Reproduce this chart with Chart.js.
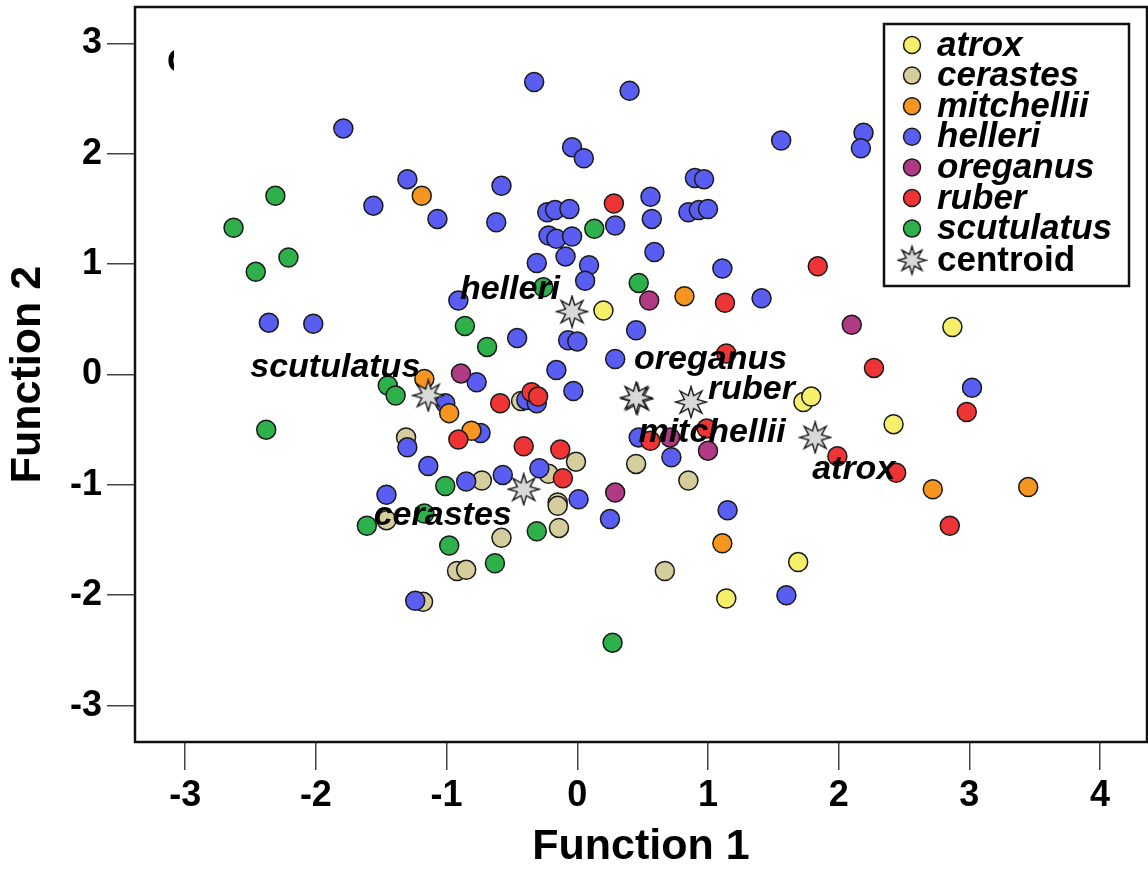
<!DOCTYPE html>
<html>
<head>
<meta charset="utf-8">
<script src="https://cdn.jsdelivr.net/npm/chart.js@4.4.1/dist/chart.umd.min.js"></script>
<style>
  html, body { margin: 0; padding: 0; background: #fff; }
</style>
</head>
<body>
<canvas id="scatter" width="1148" height="869"></canvas>
<script>
// discriminant scores, [Function 1, Function 2] per specimen
var species = ['atrox', 'cerastes', 'mitchellii', 'helleri', 'oreganus', 'ruber', 'scutulatus'];

var atrox = [[0.20,0.58],[2.87,0.43],[1.73,-0.25],[1.79,-0.20],[2.42,-0.45],[1.69,-1.70],[1.14,-2.03]];
var cerastes = [[-0.43,-0.24],[-1.31,-0.57],[-0.01,-0.79],[0.45,-0.81],[0.85,-0.96],[-0.73,-0.96],[-0.22,-0.90],
  [-0.15,-1.16],[-0.15,-1.19],[-0.14,-1.39],[-0.58,-1.48],[-0.92,-1.78],[-0.85,-1.77],[0.67,-1.78],[-1.18,-2.06],[-1.46,-1.32]];
var mitchellii = [[-1.19,1.62],[0.82,0.71],[-1.17,-0.04],[-0.98,-0.35],[-0.81,-0.51],[2.72,-1.04],[3.45,-1.02],[1.11,-1.53]];
var helleri = [[-1.79,2.23],[-1.56,1.53],[-1.30,1.77],[-1.07,1.41],[-0.58,1.71],[-0.62,1.38],[-0.33,2.65],[0.40,2.57],
  [-0.04,2.06],[0.05,1.96],[-0.23,1.47],[-0.17,1.49],[-0.06,1.50],[0.56,1.61],[0.90,1.78],[0.97,1.77],[0.85,1.47],
  [0.93,1.49],[1.00,1.50],[0.29,1.35],[0.57,1.41],[-0.22,1.26],[-0.16,1.23],[-0.04,1.25],[-0.09,1.07],[0.59,1.11],
  [-0.31,1.01],[0.09,0.99],[0.06,0.85],[1.11,0.96],[1.41,0.69],[1.56,2.12],[2.19,2.19],[2.17,2.05],[-0.91,0.67],
  [-2.36,0.47],[-2.02,0.46],[-0.46,0.33],[-0.07,0.31],[0.00,0.30],[0.45,0.40],[0.29,0.14],[-0.16,0.04],[-0.03,-0.15],
  [-0.77,-0.07],[-1.01,-0.26],[-0.39,-0.23],[-0.31,-0.26],[3.02,-0.12],[-1.30,-0.66],[-0.74,-0.53],[0.47,-0.57],
  [0.72,-0.75],[-1.14,-0.83],[-0.85,-0.97],[-0.57,-0.91],[-0.29,-0.85],[-1.46,-1.09],[0.01,-1.13],[0.25,-1.31],
  [1.15,-1.23],[-1.24,-2.05],[1.60,-2.00]];
var oreganus = [[0.55,0.67],[-0.89,0.01],[0.71,-0.57],[1.00,-0.69],[0.29,-1.07],[2.10,0.45]];
var ruber = [[0.28,1.55],[1.13,0.65],[1.84,0.98],[1.14,0.19],[2.27,0.06],[2.98,-0.34],[-0.59,-0.26],[-0.35,-0.16],
  [-0.30,-0.20],[-0.91,-0.59],[-0.41,-0.65],[-0.13,-0.68],[-0.11,-0.94],[0.56,-0.60],[0.99,-0.49],[1.99,-0.74],
  [2.44,-0.89],[2.85,-1.37]];
var scutulatus = [[-2.31,1.62],[-2.63,1.33],[-2.21,1.06],[-2.46,0.93],[0.13,1.32],[0.47,0.83],[-0.26,0.79],[-0.86,0.44],
  [-0.69,0.25],[-1.45,-0.10],[-1.39,-0.19],[-2.38,-0.50],[-1.01,-1.01],[-1.61,-1.37],[-1.17,-1.26],[-0.31,-1.42],
  [-0.98,-1.55],[-0.63,-1.71],[0.27,-2.43]];

// group centroids, same order as species
var centroidX = [1.82, -0.41, 0.46, -0.04, 0.45, 0.87, -1.14];
var centroidY = [-0.57, -1.04, -0.22, 0.57, -0.21, -0.25, -0.19];

var xTicks = [-3, -2, -1, 0, 1, 2, 3, 4];
var yTicks = [-3, -2, -1, 0, 1, 2, 3];

// styling
var colors = ['#f6ef6a', '#d5cd9b', '#f6951f', '#5a5df1', '#b03b84', '#ee3434', '#2eb04b'];
var drawOrder = [5, 7, 4, 6, 3, 1, 2];
var labelPos = {
  atrox: { dx: -3, dy: 42, align: 'left' },
  cerastes: { dx: -12, dy: 36, align: 'right' },
  mitchellii: { dx: 1, dy: 43, align: 'left' },
  helleri: { dx: -12, dy: -13, align: 'right' },
  oreganus: { dx: -2, dy: -29, align: 'left' },
  ruber: { dx: 17, dy: -3, align: 'left' },
  scutulatus: { dx: -8, dy: -18, align: 'right' }
};
var FONT = 'Liberation Sans, Arial, Helvetica, sans-serif';

function makeStar(size) {
  var c = document.createElement('canvas');
  c.width = size; c.height = size;
  var g = c.getContext('2d');
  var cx = size / 2, cy = size / 2, ro = size / 2 - 1.5, ri = ro * 0.45;
  g.beginPath();
  for (var i = 0; i < 16; i++) {
    var r = i % 2 === 0 ? ro : ri;
    var ang = -Math.PI / 2 + i * Math.PI / 8;
    var px = cx + r * Math.cos(ang), py = cy + r * Math.sin(ang);
    if (i === 0) g.moveTo(px, py); else g.lineTo(px, py);
  }
  g.closePath();
  g.fillStyle = '#d9d9d9';
  g.fill();
  g.lineWidth = 1.4;
  g.strokeStyle = '#1a1a1a';
  g.stroke();
  return c;
}
var star = makeStar(34);
var legendStar = makeStar(31);

var groups = [atrox, cerastes, mitchellii, helleri, oreganus, ruber, scutulatus];
var datasets = species.map(function(name, i) {
  return {
    label: name,
    data: groups[i].map(function(p) { return { x: p[0], y: p[1] }; }),
    backgroundColor: colors[i],
    borderColor: '#1a1a1a',
    borderWidth: 1.5,
    pointRadius: 9.5,
    order: drawOrder[i]
  };
});
datasets.push({
  label: 'centroid',
  data: centroidX.map(function(x, i) { return { x: x, y: centroidY[i] }; }),
  pointStyle: star,
  pointRadius: 17,
  order: 0
});

var extras = {
  id: 'extras',
  afterDatasetsDraw: function(chart) {
    var ctx = chart.ctx;
    var meta = chart.getDatasetMeta(datasets.length - 1);
    ctx.save();
    ctx.fillStyle = '#000';
    ctx.font = 'italic bold 34px ' + FONT;
    ctx.textBaseline = 'alphabetic';
    meta.data.forEach(function(pt, i) {
      var lp = labelPos[species[i]];
      ctx.textAlign = lp.align;
      ctx.fillText(species[i], pt.x + lp.dx, pt.y + lp.dy);
    });
    ctx.restore();
  },
  afterDraw: function(chart) {
    var ctx = chart.ctx, a = chart.chartArea;
    ctx.save();
    ctx.lineWidth = 2.5;
    ctx.strokeStyle = '#111';
    ctx.strokeRect(a.left, a.top, a.right - a.left, a.bottom - a.top);

    // clipped panel letter in the corner
    ctx.save();
    ctx.beginPath();
    ctx.rect(166, 45, 8, 36);
    ctx.clip();
    ctx.fillStyle = '#000';
    ctx.font = 'bold 34px ' + FONT;
    ctx.textAlign = 'left';
    ctx.textBaseline = 'middle';
    ctx.fillText('C', 167, 63);
    ctx.restore();

    // legend box
    var lx = 884, ly = 24, lw = 245, lh = 262;
    ctx.fillStyle = '#fff';
    ctx.fillRect(lx, ly, lw, lh);
    ctx.strokeRect(lx, ly, lw, lh);
    ctx.textAlign = 'left';
    ctx.textBaseline = 'middle';
    var y0 = 45, step = 30.6;
    species.forEach(function(name, i) {
      var y = y0 + i * step;
      ctx.beginPath();
      ctx.arc(912, y, 8.5, 0, Math.PI * 2);
      ctx.fillStyle = colors[i];
      ctx.fill();
      ctx.lineWidth = 1.5;
      ctx.strokeStyle = '#1a1a1a';
      ctx.stroke();
      ctx.fillStyle = '#000';
      ctx.font = 'italic bold 35px ' + FONT;
      ctx.fillText(name, 937, y + 1);
    });
    var yc = y0 + species.length * step + 1;
    ctx.drawImage(legendStar, 912 - legendStar.width / 2, yc - legendStar.height / 2);
    ctx.fillStyle = '#000';
    ctx.font = 'bold 35px ' + FONT;
    ctx.fillText('centroid', 937, yc + 1);
    ctx.restore();
  }
};

// tick labels must not shrink the plot box
function noPad(s) { s.paddingLeft = 0; s.paddingRight = 0; s.paddingTop = 0; s.paddingBottom = 0; }

new Chart(document.getElementById('scatter'), {
  type: 'scatter',
  data: { datasets: datasets },
  options: {
    responsive: false,
    animation: false,
    events: [],
    layout: { autoPadding: false, padding: { top: 7, right: 1, left: 0, bottom: 0 } },
    plugins: { legend: { display: false }, tooltip: { enabled: false } },
    scales: {
      x: {
        type: 'linear',
        min: -3.384,
        max: 4.359,
        afterBuildTicks: function(s) { s.ticks = xTicks.map(function(v) { return { value: v }; }); },
        afterFit: function(s) { s.height = 127; noPad(s); },
        grid: { drawOnChartArea: false, drawTicks: true, tickLength: 28, color: '#444', lineWidth: 1.5 },
        border: { display: false },
        ticks: { color: '#000', padding: 4, font: { family: FONT, size: 36, weight: 'bold' } },
        title: {
          display: true,
          text: 'Function 1',
          color: '#000',
          padding: { top: 0, bottom: 0 },
          font: { family: FONT, size: 43, weight: 'bold', lineHeight: 1.0 }
        }
      },
      y: {
        type: 'linear',
        min: -3.33,
        max: 3.33,
        afterBuildTicks: function(s) { s.ticks = yTicks.map(function(v) { return { value: v }; }); },
        afterFit: function(s) { s.width = 135; noPad(s); },
        grid: { drawOnChartArea: false, drawTicks: true, tickLength: 28, color: '#444', lineWidth: 1.5 },
        border: { display: false },
        ticks: { color: '#000', padding: 5, font: { family: FONT, size: 36, weight: 'bold' } },
        title: {
          display: true,
          text: 'Function 2',
          color: '#000',
          padding: { top: 7, bottom: 0 },
          font: { family: FONT, size: 43, weight: 'bold', lineHeight: 1.0 }
        }
      }
    }
  },
  plugins: [extras]
});
</script>
</body>
</html>
